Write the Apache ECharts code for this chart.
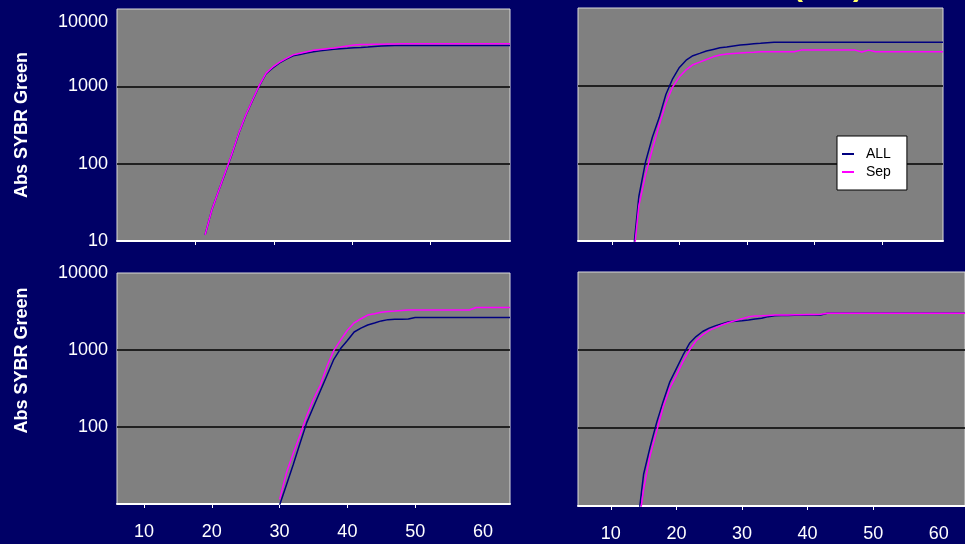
<!DOCTYPE html>
<html>
<head>
<meta charset="utf-8">
<style>
  html, body { margin: 0; padding: 0; background: #000066; }
  #chart { width: 965px; height: 544px; }
</style>
<script src="https://cdn.jsdelivr.net/npm/echarts@6/dist/echarts.min.js"></script>
</head>
<body>
<div id="chart"></div>
<script>
// x tick labels on the bottom row, y range of every panel
var xTickLabels = [10, 20, 30, 40, 50, 60];
var yMin = 10, yMax = 10000;
var yName = 'Abs SYBR Green';
var seriesNames = ['ALL', 'Sep'];

// top left panel, cycles 19..64
var tlStart = 19;
var tlAll = [12, 25.4, 44.8, 76.6, 135, 249, 420, 658, 1016, 1459,
    1734, 2009, 2243, 2480, 2580, 2690, 2800, 2880, 2950, 3010,
    3060, 3100, 3150, 3180, 3220, 3280, 3330, 3360,
    3380, 3380, 3380, 3380, 3380, 3380, 3380, 3380, 3380, 3380, 3380, 3380, 3380, 3380, 3380, 3380, 3380, 3380];
var tlSep = [12, 25.4, 44.8, 78, 137, 252, 425, 665, 1030, 1480,
    1780, 2060, 2300, 2550, 2680, 2800, 2920, 3000, 3070, 3130,
    3220, 3330, 3420, 3480, 3480, 3490, 3500, 3520, 3540,
    3557, 3557, 3557, 3557, 3557, 3557, 3557, 3557, 3557, 3557, 3557, 3557, 3557, 3557, 3557, 3557, 3557];

// top right panel, cycles 13..59
var trStart = 13;
var trAll = [5, 37.4, 105, 217, 385, 771, 1227, 1718, 2128, 2430,
    2606, 2800, 2931, 3070, 3155, 3245, 3333, 3394, 3454, 3516,
    3580,
    3610, 3610, 3610, 3610, 3610, 3610, 3610, 3610, 3610, 3610, 3610, 3610, 3610,
    3610, 3610, 3610, 3610, 3610, 3610, 3610, 3610, 3610, 3610, 3610, 3610, 3610];
var trSep = [4, 28.3, 71.6, 152, 307, 593, 961, 1300, 1600, 1862,
    2010, 2173, 2350, 2480, 2560, 2600, 2640, 2680, 2700,
    2728, 2728, 2728, 2728, 2728, 2728,
    2870, 2870, 2870, 2870, 2870, 2870, 2870, 2870, 2870,
    2720, 2870,
    2728, 2728, 2728, 2728, 2728, 2728, 2728, 2728, 2728, 2728, 2728];

// bottom left panel, cycles 30..64
var blStart = 30;
var blAll = [9.7, 17.7, 32.4, 61, 114, 183, 294, 470, 757, 1044,
    1331, 1714, 1926, 2113, 2245, 2387, 2480, 2500, 2510, 2520,
    2650, 2650, 2650, 2650, 2650, 2650, 2650, 2650, 2650, 2650, 2650, 2650, 2650, 2650, 2650];
var blSep = [11.5, 25.4, 45.4, 78.2, 140, 231, 348, 621, 990, 1346,
    1803, 2254, 2545, 2842, 2958, 3083, 3155, 3208, 3266,
    3306, 3306, 3306, 3306, 3306, 3306, 3306, 3306, 3306, 3306,
    3557, 3557, 3557, 3557, 3557, 3557];

// bottom right panel, cycles 14..64
var brStart = 14;
var brAll = [5, 25.5, 57.3, 118, 221, 391, 577, 857, 1217, 1486,
    1725, 1905, 2055, 2178, 2307, 2342, 2377, 2432, 2490, 2549,
    2678, 2740, 2760, 2770, 2780, 2790, 2800, 2805, 2811,
    2958, 2958, 2958, 2958, 2958, 2958, 2958, 2958, 2958, 2958, 2958,
    2958, 2958, 2958, 2958, 2958, 2958, 2958, 2958, 2958, 2958, 2958];
var brSep = [4, 16.4, 44.6, 91.6, 187, 324, 473, 711, 995, 1315,
    1567, 1782, 1936, 2104, 2254, 2382, 2518, 2661, 2738, 2750,
    2775, 2800, 2811, 2820, 2830, 2840, 2850, 2860, 2870,
    2958, 2958, 2958, 2958, 2958, 2958, 2958, 2958, 2958, 2958, 2958,
    2958, 2958, 2958, 2958, 2958, 2958, 2958, 2958, 2958, 2958, 2958];

var FONT = '"Liberation Sans", Arial, sans-serif';
var ALL_COLOR = '#000080';
var SEP_COLOR = '#ff00ff';

function pairs(start, values) {
    return values.map(function(v, i) {
        return [start + i, v];
    });
}

function gridBox(left, top, width, height) {
    return {
        left: left, top: top, width: width, height: height,
        show: true,
        backgroundColor: '#808080',
        borderColor: '#d9d9d9',
        borderWidth: 1
    };
}

function xAxis(grid, min, max, ticks, labels) {
    return {
        type: 'value',
        gridIndex: grid,
        min: min,
        max: max,
        axisLine: { show: true, onZero: false, lineStyle: { color: '#ffffff', width: 2 } },
        axisTick: { show: true, customValues: ticks, length: 4, lineStyle: { color: '#ffffff' } },
        axisLabel: {
            show: !!labels,
            customValues: labels || [],
            color: '#ffffff',
            fontSize: 18,
            fontFamily: FONT,
            margin: 19
        },
        splitLine: { show: false }
    };
}

function yAxis(grid, opts) {
    opts = opts || {};
    var ax = {
        type: 'log',
        logBase: 10,
        gridIndex: grid,
        min: yMin,
        max: yMax,
        axisLine: { show: false },
        axisTick: { show: false },
        axisLabel: {
            show: !!opts.labels,
            color: '#ffffff',
            fontSize: 18,
            fontFamily: FONT,
            margin: 9,
            formatter: opts.formatter,
            rich: opts.rich
        },
        splitLine: {
            show: true,
            showMinLine: false,
            showMaxLine: false,
            lineStyle: { color: '#000000', width: 1.5 }
        }
    };
    if (opts.name) {
        ax.name = yName;
        ax.nameLocation = 'middle';
        ax.nameRotate = 90;
        ax.nameGap = 86;
        ax.nameTextStyle = {
            color: '#ffffff',
            fontSize: 18,
            fontWeight: 'bold',
            fontFamily: FONT,
            padding: opts.namePad || 0
        };
    }
    return ax;
}

function line(name, color, idx, data) {
    return {
        name: name,
        type: 'line',
        xAxisIndex: idx,
        yAxisIndex: idx,
        data: data,
        showSymbol: false,
        symbol: 'none',
        lineStyle: { color: color, width: 1.5 },
        itemStyle: { color: color },
        animation: false
    };
}

var chart = echarts.init(document.getElementById('chart'));

chart.setOption({
    backgroundColor: '#000066',
    animation: false,
    textStyle: { fontFamily: FONT },
    grid: [
        gridBox(117, 9, 393, 232),
        gridBox(578, 8, 365, 233),
        gridBox(117, 273, 393, 231),
        gridBox(578, 272, 398, 234)
    ],
    xAxis: [
        xAxis(0, 6, 64, [17.5, 29.2, 40.7, 52.3], null),
        xAxis(1, 5, 59, [10, 20, 30, 40, 50], null),
        xAxis(2, 6, 64, [10, 20, 30, 40, 50], xTickLabels),
        xAxis(3, 5, 64, [10, 20, 30, 40, 50], xTickLabels)
    ],
    yAxis: [
        yAxis(0, {
            labels: true,
            name: true,
            formatter: function(v) {
                var r = Math.round(v);
                return r === yMax ? '{top|' + r + '}' : String(r);
            },
            rich: { top: { padding: [26, 0, 0, 0], color: '#ffffff', fontSize: 18, fontFamily: FONT } }
        }),
        yAxis(1),
        yAxis(2, {
            labels: true,
            name: true,
            namePad: [0, 0, 0, 56],
            formatter: function(v) {
                var r = Math.round(v);
                return r === yMin ? '' : String(r);
            }
        }),
        yAxis(3)
    ],
    legend: {
        data: seriesNames,
        orient: 'vertical',
        left: 837,
        top: 136,
        backgroundColor: '#ffffff',
        borderColor: '#000000',
        borderWidth: 1,
        borderRadius: 0,
        padding: [11, 16, 11, 5],
        itemWidth: 12,
        itemHeight: 2,
        itemGap: 4,
        icon: 'rect',
        selectedMode: false,
        textStyle: { color: '#000000', fontSize: 14, fontFamily: FONT, padding: [0, 0, 0, 7] }
    },
    graphic: [{
        type: 'text',
        x: 793,
        y: 3,
        silent: true,
        style: {
            text: '(      )',
            fill: '#ffff66',
            font: 'bold 30px ' + FONT,
            verticalAlign: 'bottom',
            shadowColor: '#000000',
            shadowOffsetX: 2,
            shadowOffsetY: 2,
            shadowBlur: 0
        }
    }],
    series: [
        line(seriesNames[0], ALL_COLOR, 0, pairs(tlStart, tlAll)),
        line(seriesNames[1], SEP_COLOR, 0, pairs(tlStart, tlSep)),
        line(seriesNames[0], ALL_COLOR, 1, pairs(trStart, trAll)),
        line(seriesNames[1], SEP_COLOR, 1, pairs(trStart, trSep)),
        line(seriesNames[0], ALL_COLOR, 2, pairs(blStart, blAll)),
        line(seriesNames[1], SEP_COLOR, 2, pairs(blStart, blSep)),
        line(seriesNames[0], ALL_COLOR, 3, pairs(brStart, brAll)),
        line(seriesNames[1], SEP_COLOR, 3, pairs(brStart, brSep))
    ]
});
</script>
</body>
</html>
